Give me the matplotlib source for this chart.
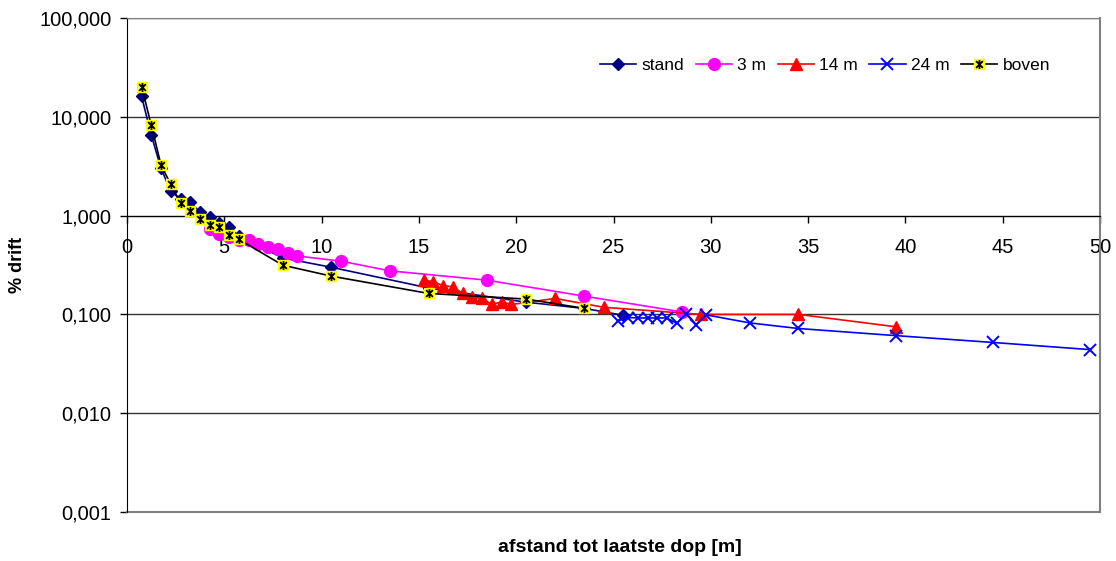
import matplotlib
matplotlib.use("Agg")
import matplotlib.pyplot as plt
import matplotlib.path as mpath
from matplotlib.ticker import FixedLocator, FuncFormatter, NullLocator
from matplotlib.legend_handler import HandlerTuple

plt.rcParams['font.family'] = ['Liberation Sans', 'DejaVu Sans']

# ---- data ----
stand_x = [0.75, 1.25, 1.75, 2.25, 2.75, 3.25, 3.75, 4.25, 4.75, 5.25, 5.75, 8.0, 10.5, 15.5, 20.5, 23.5, 25.5]
stand_y = [16.1, 6.5, 3.0, 1.76, 1.48, 1.38, 1.08, 0.96, 0.85, 0.76, 0.62, 0.373, 0.30, 0.185, 0.133, 0.115, 0.098]

m3_x = [4.25, 4.75, 5.25, 5.75, 6.25, 6.75, 7.25, 7.75, 8.25, 8.75, 11.0, 13.5, 18.5, 23.5, 28.5]
m3_y = [0.73, 0.65, 0.61, 0.565, 0.56, 0.51, 0.48, 0.455, 0.42, 0.39, 0.346, 0.276, 0.222, 0.153, 0.106]

m14_x = [15.25, 15.75, 16.25, 16.75, 17.25, 17.75, 18.25, 18.75, 19.25, 19.75, 22.0, 24.5, 29.5, 34.5, 39.5]
m14_y = [0.222, 0.214, 0.195, 0.19, 0.163, 0.149, 0.145, 0.126, 0.134, 0.126, 0.145, 0.118, 0.100, 0.100, 0.075]

m24_x = [25.25, 25.75, 26.25, 26.75, 27.25, 27.75, 28.25, 28.75, 29.25, 29.75, 32.0, 34.5, 39.5, 44.5, 49.5]
m24_y = [0.086, 0.093, 0.092, 0.092, 0.092, 0.092, 0.081, 0.102, 0.079, 0.099, 0.082, 0.072, 0.061, 0.052, 0.044]

boven_x = [0.75, 1.25, 1.75, 2.25, 2.75, 3.25, 3.75, 4.25, 4.75, 5.25, 5.75, 8.0, 10.5, 15.5, 20.5, 23.5]
boven_y = [20.2, 8.2, 3.24, 2.07, 1.33, 1.11, 0.92, 0.81, 0.76, 0.635, 0.575, 0.315, 0.244, 0.163, 0.143, 0.115]

series_names = ["stand", "3 m", "14 m", "24 m", "boven"]
x_ticks = [0, 5, 10, 15, 20, 25, 30, 35, 40, 45, 50]
y_ticks = [0.001, 0.01, 0.1, 1, 10, 100]
x_label = "afstand tot laatste dop [m]"
y_label = "% drift"

# ---- figure ----
fig = plt.figure(figsize=(11.16, 5.61), dpi=100)
ax = fig.add_axes([127/1116, 1 - 512/561, (1100 - 127)/1116, (512 - 18)/561])
ax.set_yscale('log')
ax.set_xlim(0, 50)
ax.set_ylim(0.001, 100)

lw = 1.2
l1, = ax.plot(stand_x, stand_y, color='#000080', lw=lw, marker='D', ms=6.5,
              mfc='#000080', mec='#000080', label=series_names[0], zorder=3)
l2, = ax.plot(m3_x, m3_y, color='#FF00FF', lw=lw, marker='o', ms=8.5,
              mfc='#FF00FF', mec='#FF00FF', label=series_names[1], zorder=4)
l3, = ax.plot(m14_x, m14_y, color='#FF0000', lw=lw, marker='^', ms=8.5,
              mfc='#FF0000', mec='#FF0000', label=series_names[2], zorder=5)
l4, = ax.plot(m24_x, m24_y, color='#0000FF', lw=lw, marker='x', ms=8,
              mew=1.4, label=series_names[3], zorder=6)

star = mpath.Path([(0, -1), (0, 1), (-0.75, -0.75), (0.75, 0.75), (-0.75, 0.75), (0.75, -0.75)],
                  [mpath.Path.MOVETO, mpath.Path.LINETO, mpath.Path.MOVETO, mpath.Path.LINETO,
                   mpath.Path.MOVETO, mpath.Path.LINETO])
l5, = ax.plot(boven_x, boven_y, color='black', lw=lw, marker='s', ms=6.5,
              mfc='#FFFF00', mec='#FFFF00', zorder=7)
l5s, = ax.plot(boven_x, boven_y, ls='none', marker=star, ms=6.5, mec='black',
               mew=1.3, zorder=8)

# axes styling
ax.spines['bottom'].set_position(('data', 1))
ax.spines['bottom'].set_color('black')
ax.spines['left'].set_color('black')
ax.spines['top'].set_color('#808080')
ax.spines['right'].set_color('#808080')
ax.spines['right'].set_linewidth(1.5)

ax.axhline(0.001, color='#808080', lw=1.5, zorder=1, clip_on=False)

ax.xaxis.set_major_locator(FixedLocator(x_ticks))
ax.xaxis.set_major_formatter(FuncFormatter(lambda v, p: f"{int(v)}"))
ax.yaxis.set_major_locator(FixedLocator(y_ticks))
ax.yaxis.set_minor_locator(NullLocator())
ax.yaxis.set_major_formatter(FuncFormatter(lambda v, p: f"{v:.3f}".replace('.', ',')))

ax.tick_params(axis='x', direction='out', length=5, width=1, pad=11, labelsize=14.5)
ax.tick_params(axis='y', direction='out', length=5, width=1, pad=6, labelsize=14.5)

ax.grid(axis='y', which='major', color='#333333', lw=1)
ax.set_axisbelow(True)

fig.text(620/1116, 1 - 548/561, x_label, ha='center', va='center',
         fontsize=14, fontweight='bold')
fig.text(18/1116, 1 - 265/561, y_label, ha='center', va='center',
         rotation=90, fontsize=13, fontweight='bold')

handles = [l1, l2, l3, l4, (l5, l5s)]
fig.legend(handles, series_names, loc='center right',
           bbox_to_anchor=(1050/1116, 1 - 65.7/561), ncol=5, frameon=False,
           fontsize=12.5, handlelength=2.1, handletextpad=0.3, columnspacing=0.65,
           borderpad=0, borderaxespad=0,
           handler_map={tuple: HandlerTuple(ndivide=1, pad=0)})

fig.savefig("out.png", dpi=100)
